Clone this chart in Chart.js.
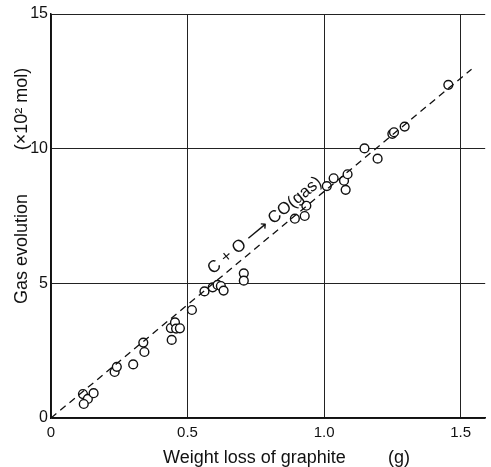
<!DOCTYPE html>
<html>
<head>
<meta charset="utf-8">
<script src="https://cdn.jsdelivr.net/npm/chart.js@4.4.1/dist/chart.umd.min.js"></script>
<style>
  html, body { margin: 0; padding: 0; background: #fff; }
  canvas { display: block; }
</style>
</head>
<body>
<canvas id="gasChart" width="491" height="467"></canvas>
<script>
// weight loss of graphite (g) and gas evolved (x10^-2 mol)
const weightLoss = [0.117, 0.135, 0.120, 0.156, 0.233, 0.241, 0.301, 0.338, 0.342,
    0.439, 0.454, 0.458, 0.472, 0.442, 0.516, 0.562, 0.592, 0.610, 0.622, 0.632,
    0.706, 0.706, 0.893, 0.929, 0.935, 1.010, 1.035, 1.073, 1.086, 1.079,
    1.148, 1.196, 1.250, 1.256, 1.295, 1.455];
const gasEvolution = [0.89, 0.71, 0.52, 0.92, 1.71, 1.90, 1.99, 2.80, 2.45,
    3.34, 3.55, 3.32, 3.33, 2.90, 4.01, 4.70, 4.85, 4.94, 4.90, 4.73,
    5.37, 5.10, 7.40, 7.50, 7.88, 8.61, 8.90, 8.81, 9.05, 8.47,
    10.01, 9.63, 10.55, 10.61, 10.82, 12.37];

// stoichiometric line C + O -> CO(gas)
const lineX = [0, 1.54];
const lineY = [0, 12.95];

const xTicks = [0, 0.5, 1.0, 1.5];
const xTickLabels = ['0', '0.5', '1.0', '1.5'];
const yTicks = [0, 5, 10, 15];
const yTickLabels = ['0', '5', '10', '15'];

const xTitle = 'Weight loss of graphite';
const xUnit = '(g)';
const yTitle = 'Gas evolution';
const yUnit = '(\u00d710\u00b2 mol)';
const reaction = 'C + O \u27f6 CO(gas)';
const reactionAtX = 0.81;

const FONT = "'Liberation Sans', Arial, sans-serif";

const titles = {
    id: 'titles',
    afterDraw(chart) {
        const c = chart.ctx;
        const xs = chart.scales.x, ys = chart.scales.y;
        c.save();
        c.fillStyle = '#111';
        c.font = '18px ' + FONT;
        c.textBaseline = 'alphabetic';
        c.textAlign = 'left';
        c.fillText(xTitle, 163, 463);
        c.fillText(xUnit, 388, 463);

        c.textAlign = 'center';
        c.save();
        c.translate(27, 249);
        c.rotate(-Math.PI / 2);
        c.fillText(yTitle, 0, 0);
        c.restore();
        c.save();
        c.translate(27, 109);
        c.rotate(-Math.PI / 2);
        c.fillText(yUnit, 0, 0);
        c.restore();

        // reaction label along the dashed line
        const t = (reactionAtX - lineX[0]) / (lineX[1] - lineX[0]);
        const ly = lineY[0] + t * (lineY[1] - lineY[0]);
        const px = xs.getPixelForValue(reactionAtX);
        const py = ys.getPixelForValue(ly);
        const ang = Math.atan2(ys.getPixelForValue(lineY[1]) - ys.getPixelForValue(lineY[0]),
            xs.getPixelForValue(lineX[1]) - xs.getPixelForValue(lineX[0]));
        c.translate(px, py);
        c.rotate(ang);
        c.font = '17px ' + FONT;
        c.fillText(reaction, 0, -7);
        c.restore();
    }
};

new Chart(document.getElementById('gasChart'), {
    data: {
        datasets: [{
            type: 'line',
            data: lineX.map((x, i) => ({ x: x, y: lineY[i] })),
            borderColor: '#111',
            borderWidth: 1.3,
            borderDash: [7, 5],
            pointRadius: 0,
            fill: false
        }, {
            type: 'scatter',
            data: weightLoss.map((x, i) => ({ x: x, y: gasEvolution[i] })),
            pointStyle: 'circle',
            pointRadius: 4.4,
            borderWidth: 1.4,
            borderColor: '#111',
            backgroundColor: '#fff'
        }]
    },
    plugins: [titles],
    options: {
        responsive: false,
        animation: false,
        layout: { padding: { top: 14, right: 0, left: 0, bottom: 0 } },
        plugins: { legend: { display: false }, tooltip: { enabled: false } },
        scales: {
            x: {
                type: 'linear',
                min: 0,
                max: 1.59,
                afterBuildTicks: s => { s.ticks = xTicks.map(v => ({ value: v })); },
                afterFit: s => { s.height = 49; },
                ticks: {
                    padding: 6,
                    color: '#111',
                    font: { family: FONT, size: 15 },
                    callback: (v) => xTickLabels[xTicks.indexOf(v)]
                },
                grid: { color: '#222', lineWidth: 1, drawTicks: false },
                border: { color: '#111', width: 1.5 }
            },
            y: {
                type: 'linear',
                min: 0,
                max: 15,
                afterBuildTicks: s => { s.ticks = yTicks.map(v => ({ value: v })); },
                afterFit: s => { s.width = 51; },
                ticks: {
                    padding: 3,
                    color: '#111',
                    font: { family: FONT, size: 16 },
                    callback: (v) => yTickLabels[yTicks.indexOf(v)]
                },
                grid: { color: '#222', lineWidth: 1, drawTicks: false },
                border: { color: '#111', width: 1.5 }
            }
        }
    }
});
</script>
</body>
</html>
